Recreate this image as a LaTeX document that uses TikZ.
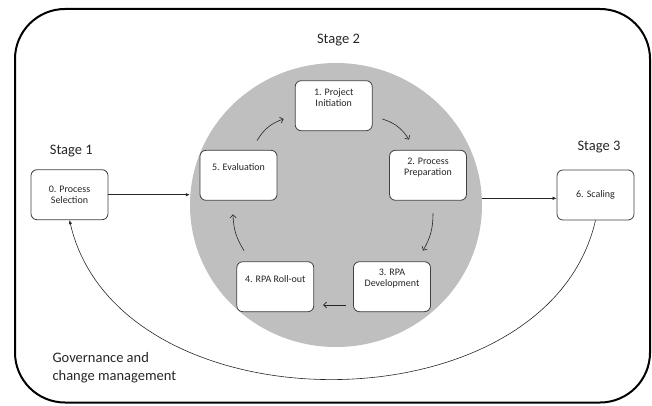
\documentclass[tikz,border=0pt]{standalone}
\usepackage{fontspec}
\setmainfont{Carlito}
\usetikzlibrary{shapes.geometric, arrows.meta, calc}
\usepackage{xcolor}
\definecolor{cyclegray}{HTML}{BFBFBF}
\definecolor{boxline}{HTML}{404040}
\definecolor{darktext}{HTML}{262626}
\tikzset{
  stepbox/.style={
    rectangle, rounded corners=6pt, draw=boxline, fill=white,
    line width=0.8pt, minimum width=77pt, minimum height=50pt,
    inner sep=0pt
  },
  steptext/.style={
    align=center, font=\fontsize{10}{11}\selectfont, text=darktext
  },
  stagelabel/.style={
    font=\fontsize{14.5}{18}\selectfont, text=darktext
  },
  flow/.style={-{Latex[length=4pt,width=3.5pt]}, line width=0.6pt, black!85},
  cyc/.style={-{Straight Barb[length=3pt,width=6pt]}, line width=0.6pt, black!85}
}

\begin{document}
\begin{tikzpicture}[x=1pt, y=1pt]
  \useasboundingbox (0,0) rectangle (652,405);
  % Outer frame
  \draw[line width=2pt, rounded corners=50pt] (15,2.5) rectangle (650,396);
  % Stage 2 cycle
  \node[ellipse, fill=cyclegray, inner sep=0pt,
        minimum width=292pt, minimum height=284pt] (cycle) at (336,200) {};
  \node[stepbox, label={[steptext, yshift=8pt]center:{1. Project\\Initiation}}]
    (n1) at (333.7,299.3) {};
  \node[stepbox, label={[steptext, yshift=8pt]center:{2. Process\\Preparation}}]
    (n2) at (428,229.7) {};
  \node[stepbox, label={[steptext, yshift=8pt]center:{3. RPA\\Development}}]
    (n3) at (392,118.3) {};
  \node[stepbox, label={[steptext, yshift=8pt]center:{4. RPA Roll-out}}]
    (n4) at (275.3,118.3) {};
  \node[stepbox, label={[steptext, yshift=8pt]center:{5. Evaluation}}]
    (n5) at (238.5,229.7) {};
  % Stage 1 and 3
  \node[stepbox, steptext] (n0) at (69.5,210.3) {0. Process\\Selection};
  \node[stepbox, steptext] (n6) at (595.5,210) {6. Scaling};
  % Labels
  \node[stagelabel] (s1) at (71.3,254.3) {Stage 1};
  \node[stagelabel] (s2) at (338.5,365) {Stage 2};
  \node[stagelabel] (s3) at (599,258.3) {Stage 3};
  \node[stagelabel, align=left, anchor=west] (gov) at (49,37.5)
    {Governance and\\change management};
  % Cycle arrows
  \draw[cyc] ([shift={(18.5,9.3)}]n5.north) to[bend left=20]
    ([shift={(-11.2,-13.3)}]n1.west);
  \draw[cyc] ([shift={(9.8,-13.3)}]n1.east) to[bend left=20]
    ([shift={(-19,10.3)}]n2.north);
  \draw[cyc] ([shift={(5,-12.7)}]n2.south) to[bend left=15]
    ([shift={(31,10.7)}]n3.north);
  \draw[cyc] ([shift={(-7.3,-18.3)}]n3.west) --
    ([shift={(9,-18.3)}]n4.east);
  \draw[cyc] ([shift={(-31.3,10.7)}]n4.north) to[bend left=15]
    ([shift={(-5.5,-13.7)}]n5.south);
  % Stage connectors
  \draw[flow] (n0.east) -- (n0.east -| cycle.west);
  \coordinate (r6) at ([yshift=-3.3pt]n6.west);
  \draw[flow] (r6 -| cycle.east) -- (r6);
  \draw[flow] (n6.south) to[out=-103, in=-77, looseness=1.06] (n0.south);
\end{tikzpicture}
\end{document}
